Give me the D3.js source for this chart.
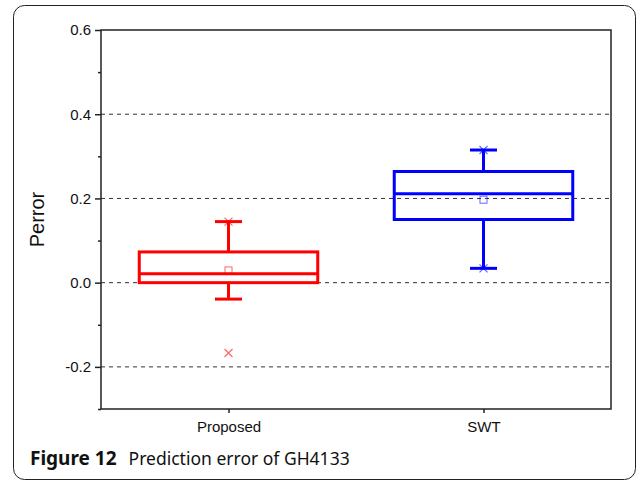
<!DOCTYPE html>
<html>
<head>
<meta charset="utf-8">
<script src="https://cdn.jsdelivr.net/npm/d3@7"></script>
<style>
  body { margin: 0; background: #fff; }
  svg { display: block; }
</style>
</head>
<body>
<div id="chart"></div>
<script>
// data
var categories = ["Proposed", "SWT"];
var colors = ["#ff0000", "#0000ff"];
var q1 = [0.0, 0.150];
var medians = [0.021, 0.211];
var q3 = [0.073, 0.264];
var whiskerLow = [-0.039, 0.034];
var whiskerHigh = [0.145, 0.315];
var means = [0.029, 0.197];
// x marks (1% / 99% points and outliers)
var crossMarks = [[0.145, -0.167], [0.315, 0.034]];
var yTicks = [-0.2, 0.0, 0.2, 0.4, 0.6];
var yMinorTicks = [-0.3, -0.1, 0.1, 0.3, 0.5];
var gridValues = [-0.2, 0.0, 0.2, 0.4];

var svgWidth = 637;
var svgHeight = 480;
var margin = { top: 30, right: 26, bottom: 71, left: 101 };
var Width = svgWidth - margin.left - margin.right;
var Height = svgHeight - margin.top - margin.bottom;

var svg = d3.select("#chart").append("svg")
  .attr("width", svgWidth)
  .attr("height", svgHeight);

// rounded frame round the figure
svg.append("rect")
  .attr("x", 13.5).attr("y", 5.5)
  .attr("width", 622).attr("height", 474)
  .attr("rx", 11).attr("ry", 11)
  .attr("fill", "none")
  .attr("stroke", "#222")
  .attr("stroke-width", 1);

var chartGroup = svg.append("g")
  .attr("transform", `translate(${margin.left},${margin.top})`);

var xScale = d3.scalePoint().domain(categories).range([0, Width]).padding(0.5);
var yScale = d3.scaleLinear().domain([-0.3, 0.6]).range([Height, 0]);
var step = xScale.step();
var boxW = step * 0.7;
var capW = 27;

// dashed grid lines
chartGroup.selectAll(".grid").data(gridValues).enter().append("line")
  .attr("x1", 0).attr("x2", Width)
  .attr("y1", d => yScale(d)).attr("y2", d => yScale(d))
  .attr("stroke", "#333")
  .attr("stroke-width", 1)
  .attr("stroke-dasharray", "4,4");

// frame: top and right
chartGroup.append("rect")
  .attr("x", 0).attr("y", 0).attr("width", Width).attr("height", Height)
  .attr("fill", "none").attr("stroke", "#222").attr("stroke-width", 1.5);

// left axis
var fmt = d3.format(".1f");
var leftAxis = d3.axisLeft(yScale).tickValues(yTicks).tickSize(6).tickPadding(4)
  .tickFormat(d => fmt(d).replace("\u2212", "-"));
var yAxis = chartGroup.append("g").call(leftAxis)
  .attr("font-family", "'Liberation Sans', Arial, sans-serif")
  .attr("font-size", 15);
yAxis.select(".domain").remove();
yAxis.selectAll("line").attr("stroke", "#222").attr("stroke-width", 1.5);
yAxis.selectAll("text").attr("fill", "#111");

var minorAxis = d3.axisLeft(yScale).tickValues(yMinorTicks).tickSize(3).tickFormat("");
var yMinor = chartGroup.append("g").call(minorAxis);
yMinor.select(".domain").remove();
yMinor.selectAll("line").attr("stroke", "#222").attr("stroke-width", 1.5);

// bottom axis
var bottomAxis = d3.axisBottom(xScale).tickSize(4).tickPadding(8);
var xAxis = chartGroup.append("g")
  .attr("transform", `translate(0, ${Height})`)
  .call(bottomAxis)
  .attr("font-family", "'Liberation Sans', Arial, sans-serif")
  .attr("font-size", 15);
xAxis.select(".domain").remove();
xAxis.selectAll("line").attr("stroke", "#222").attr("stroke-width", 1.5);
xAxis.selectAll("text").attr("fill", "#111");

// y label
chartGroup.append("text")
  .attr("transform", "rotate(-90)")
  .attr("x", -Height / 2)
  .attr("y", -57)
  .attr("text-anchor", "middle")
  .attr("font-family", "'Liberation Sans', Arial, sans-serif")
  .attr("font-size", 20)
  .attr("fill", "#111")
  .text("Perror");

// boxes
var boxes = chartGroup.selectAll(".box").data(categories).enter().append("g");

boxes.each(function(cat, i) {
  var g = d3.select(this);
  var cx = xScale(cat);
  var col = colors[i];
  // whiskers
  g.append("line")
    .attr("x1", cx).attr("x2", cx)
    .attr("y1", yScale(q3[i])).attr("y2", yScale(whiskerHigh[i]))
    .attr("stroke", col).attr("stroke-width", 3);
  g.append("line")
    .attr("x1", cx).attr("x2", cx)
    .attr("y1", yScale(q1[i])).attr("y2", yScale(whiskerLow[i]))
    .attr("stroke", col).attr("stroke-width", 3);
  [whiskerHigh[i], whiskerLow[i]].forEach(function(v) {
    g.append("line")
      .attr("x1", cx - capW / 2).attr("x2", cx + capW / 2)
      .attr("y1", yScale(v)).attr("y2", yScale(v))
      .attr("stroke", col).attr("stroke-width", 3);
  });
  // box
  g.append("rect")
    .attr("x", cx - boxW / 2).attr("width", boxW)
    .attr("y", yScale(q3[i]))
    .attr("height", yScale(q1[i]) - yScale(q3[i]))
    .attr("fill", "none").attr("stroke", col).attr("stroke-width", 3);
  g.append("line")
    .attr("x1", cx - boxW / 2).attr("x2", cx + boxW / 2)
    .attr("y1", yScale(medians[i])).attr("y2", yScale(medians[i]))
    .attr("stroke", col).attr("stroke-width", 3);
  // mean square
  g.append("rect")
    .attr("x", cx - 3.5).attr("y", yScale(means[i]) - 3.5)
    .attr("width", 7).attr("height", 7)
    .attr("fill", "none").attr("stroke", col).attr("stroke-opacity", 0.6)
    .attr("stroke-width", 1);
  // x marks
  crossMarks[i].forEach(function(v) {
    var y = yScale(v);
    g.append("path")
      .attr("d", `M${cx - 4},${y - 4}L${cx + 4},${y + 4}M${cx - 4},${y + 4}L${cx + 4},${y - 4}`)
      .attr("stroke", col).attr("stroke-opacity", 0.6).attr("stroke-width", 1.2)
      .attr("fill", "none");
  });
});

// caption
var caption = svg.append("text")
  .attr("x", 30).attr("y", 465)
  .attr("font-family", "'Noto Sans', 'Open Sans', sans-serif")
  .attr("fill", "#111");
caption.append("tspan").attr("font-weight", "bold").attr("font-size", 19).text("Figure 12");
caption.append("tspan").attr("dx", 12).attr("font-size", 17.5).text("Prediction error of GH4133");
</script>
</body>
</html>
